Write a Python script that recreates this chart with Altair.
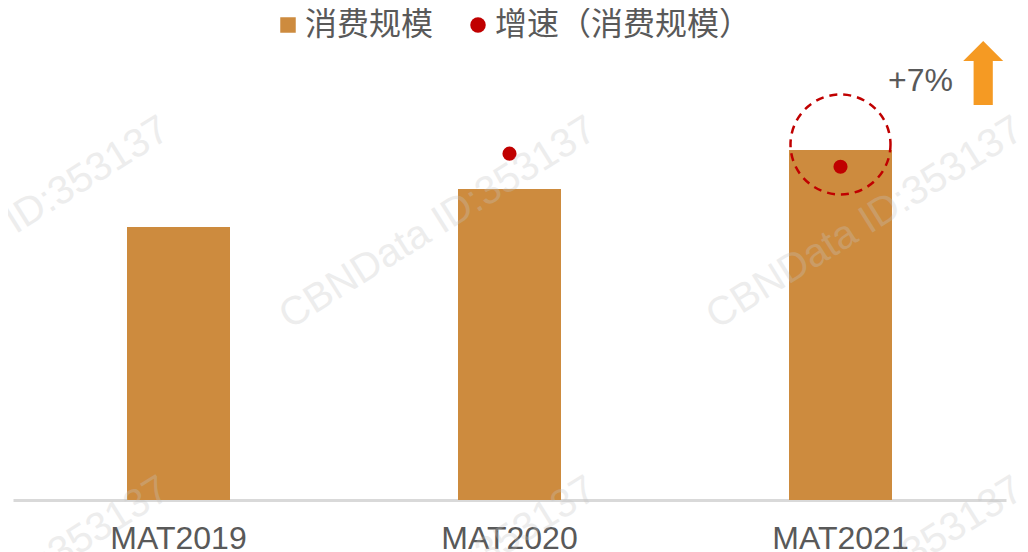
import altair as alt
import pandas as pd

# ---- data ----
categories = ["MAT2019", "MAT2020", "MAT2021"]
scale_values = [78.0, 88.9, 100.0]          # 消费规模 (index, MAT2021 = 100)
growth_cats = ["MAT2020", "MAT2021"]
growth_values = [13.9, 12.5]                 # 增速（消费规模）, %
series_names = ["消费规模", "增速（消费规模）"]
highlight_cat = ["MAT2021"]
highlight_level = [101.6]
note_text = ["+7%"]
note_level = [119.7]
arrow_level = [122.0]
watermark = "CBNData ID:353137"

BAR = "#CD8B3E"
RED = "#C00000"
ORANGE = "#F59A23"
GREY = "#595959"
CJK = "Noto Sans CJK SC"
LAT = "Liberation Sans"

bars_df = pd.DataFrame({"cat": categories, "v": scale_values, "s": series_names[0]})
pts_df = pd.DataFrame({"cat": growth_cats, "g": growth_values, "s": series_names[1]})
hl_df = pd.DataFrame({"cat": highlight_cat, "v": highlight_level})
note_df = pd.DataFrame({"cat": highlight_cat, "v": note_level, "t": note_text})
arrow_df = pd.DataFrame({"cat": highlight_cat, "v": arrow_level})

xenc = alt.X("cat:N", sort=categories,
             scale=alt.Scale(paddingInner=0.69, paddingOuter=0.345),
             axis=alt.Axis(title=None, labelFontSize=32, labelFont=LAT, labelColor=GREY,
                           labelPadding=23, ticks=False, domainColor="#d9d9d9",
                           domainWidth=3, labelAngle=0))
ybar = alt.Scale(domain=[0, 140.6])

color = alt.Color("s:N", scale=alt.Scale(domain=series_names, range=[BAR, RED]),
                  legend=alt.Legend(title=None, orient="none", direction="horizontal",
                                    legendX=259, legendY=1, labelFontSize=32,
                                    labelFont=CJK, labelColor=GREY, symbolSize=240,
                                    labelOffset=1, columnPadding=28, padding=0,
                                    labelLimit=0, symbolStrokeWidth=0))

bars = alt.Chart(bars_df).mark_bar(size=103).encode(
    x=xenc,
    y=alt.Y("v:Q", scale=ybar, axis=None),
    color=color,
)

points = alt.Chart(pts_df).mark_point(filled=True, size=200, opacity=1).encode(
    x=alt.X("cat:N", sort=categories),
    y=alt.Y("g:Q", scale=alt.Scale(domain=[-23.2, 29.5]), axis=None),
    color=color,
    shape=alt.Shape("s:N", scale=alt.Scale(domain=series_names, range=["square", "circle"])),
)

ring = alt.Chart(hl_df).mark_point(shape="circle", size=10000, filled=False, color=RED,
                                    strokeWidth=2.5, strokeDash=[8, 6], opacity=1).encode(
    x=alt.X("cat:N", sort=categories),
    y=alt.Y("v:Q", scale=ybar, axis=None),
)

note = alt.Chart(note_df).mark_text(dx=80, fontSize=32, font=LAT, color=GREY,
                                     baseline="middle", align="center").encode(
    x=alt.X("cat:N", sort=categories),
    y=alt.Y("v:Q", scale=ybar, axis=None),
    text="t:N",
)

arrow_path = "M0,-1 L0.625,-0.375 L0.3,-0.375 L0.3,1 L-0.3,1 L-0.3,-0.375 L-0.625,-0.375 Z"
arrow = alt.Chart(arrow_df).mark_point(shape=arrow_path, size=4096, filled=True,
                                        color=ORANGE, opacity=1, strokeWidth=0).encode(
    x=alt.X("cat:N", sort=categories),
    xOffset=alt.value(194),
    y=alt.Y("v:Q", scale=ybar, axis=None),
)

wm_layers = []
for wx in (-2, 425, 852):
    for wy in (215, 575):
        wm_layers.append(
            alt.Chart(bars_df.head(1)).mark_text(
                text=watermark, angle=328, fontSize=40, font=LAT, color="#c4c4c4",
                opacity=0.3, align="center", baseline="middle"
            ).encode(x=alt.value(wx), y=alt.value(wy))
        )

chart = alt.layer(bars, points, ring, note, arrow, *wm_layers).resolve_scale(
    y="independent"
).properties(
    width=993, height=492,
    autosize=alt.AutoSizeParams(type="none"),
    padding={"left": 5, "top": 0, "right": 14, "bottom": 52},
    background="white",
).configure_view(stroke=None)

chart.save("out.html", embed_options={"renderer": "svg", "actions": False})
